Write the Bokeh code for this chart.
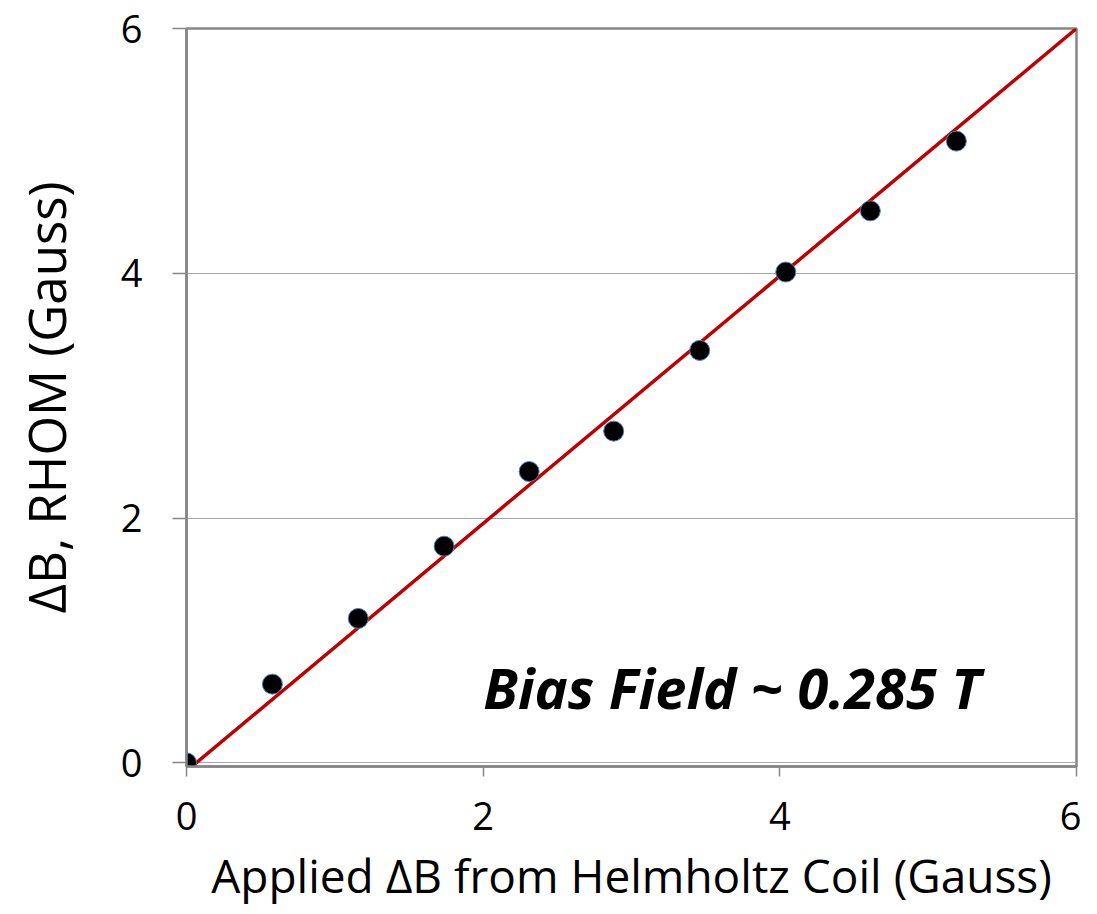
from bokeh.plotting import figure
from bokeh.models import Range1d, Label, FixedTicker
from bokeh.embed import file_html
from bokeh.resources import INLINE

# Data
applied = [0.0, 0.579, 1.158, 1.737, 2.31, 2.88, 3.46, 4.04, 4.61, 5.19]
rhom = [0.0, 0.643, 1.18, 1.77, 2.38, 2.71, 3.37, 4.01, 4.51, 5.08]
fit_x = [-0.047, 6.0]
fit_y = [-0.114, 6.0]
ticks = [0, 2, 4, 6]

x_title = "Applied ΔB from Helmholtz Coil (Gauss)"
y_title = "ΔB, RHOM (Gauss)"
annotation = "Bias Field ~ 0.285 T"

FONT = "Open Sans"

p = figure(frame_width=890, frame_height=738,
           min_border_left=186, min_border_top=28, min_border_right=5, min_border_bottom=132,
           x_range=Range1d(0, 6), y_range=Range1d(-0.03, 6),
           output_backend="svg", toolbar_location=None)

p.outline_line_color = "#868686"
p.outline_line_width = 2.5

p.xgrid.visible = False
p.ygrid.ticker = FixedTicker(ticks=ticks)
p.ygrid.grid_line_color = "#a6a6a6"
p.ygrid.grid_line_width = 1

for ax in (p.xaxis[0], p.yaxis[0]):
    ax.ticker = FixedTicker(ticks=ticks)
    ax.axis_line_color = "#868686"
    ax.axis_line_width = 2.5
    ax.major_tick_line_color = "#868686"
    ax.major_tick_line_width = 1.5
    ax.major_tick_in = 0
    ax.minor_tick_line_color = None
    ax.major_label_text_font = FONT
    ax.major_label_text_font_size = "38px"
    ax.major_label_text_color = "black"
    ax.axis_label_text_font = FONT
    ax.axis_label_text_font_style = "normal"
    ax.axis_label_text_color = "black"

p.yaxis.major_tick_out = 14
p.xaxis.major_tick_out = 10
p.yaxis.major_label_standoff = 30
p.xaxis.major_label_standoff = 25

p.xaxis.axis_label = x_title
p.xaxis.axis_label_text_font_size = "46px"
p.xaxis.axis_label_standoff = 11
p.yaxis.axis_label = y_title
p.yaxis.axis_label_text_font_size = "51px"
p.yaxis.axis_label_standoff = 37

p.line(fit_x, fit_y, line_color="#c00000", line_width=3.5)
p.scatter(applied, rhom, size=20, fill_color="black", line_color="#4f81bd", line_width=1)

p.add_layout(Label(x=2.0, y=0.62, text=annotation,
                   text_font=FONT, text_font_style="bold italic",
                   text_font_size="56px", text_color="black",
                   text_baseline="middle"))

open("out.html", "w").write(file_html(p, INLINE))
